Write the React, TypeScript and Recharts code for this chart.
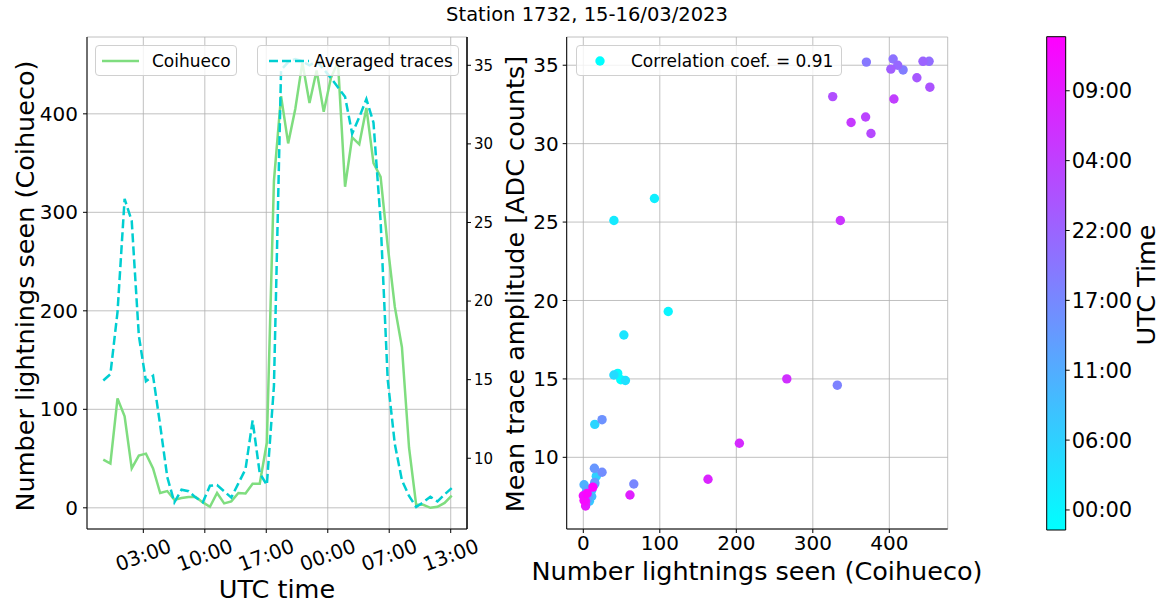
import React from 'react';
import {
  LineChart,
  Line,
  ScatterChart,
  Scatter,
  BarChart,
  Bar,
  XAxis,
  YAxis,
  CartesianGrid,
} from 'recharts';

const FONT = '"DejaVu Sans", Verdana, sans-serif';

// one sample every ~48.6 min, UTC, starting late on 15/03
const coihueco = [
  49, 45, 111, 93, 40, 53, 55, 40, 15, 17,
  8, 10, 11, 11, 5.5, 1, 15, 4.5, 6.5, 15,
  14.5, 24.5, 24.5, 66, 332, 418, 370, 405, 452, 411,
  444, 402, 436, 453, 326, 376, 369, 406, 350, 336,
  266, 204, 163, 61, 3, 3, 0, 1, 5, 12.5,
];

const averaged = [
  14.95, 15.35, 19.3, 26.5, 25.1, 17.8, 14.9, 15.25, 12.1, 8.8,
  7.2, 8.0, 7.9, 7.5, 7.2, 8.25, 8.3, 7.9, 7.5, 8.4,
  9.3, 12.4, 9.05, 8.3, 14.6, 34.7, 35.2, 35.4, 35.25, 35.0,
  35.25, 34.75, 34.2, 33.6, 33.0, 30.65, 31.7, 32.85, 31.35, 25.1,
  15.0, 10.9, 8.6, 7.6, 6.9, 7.2, 7.55, 7.25, 7.7, 8.1,
];

const timeTicks = [5.63, 14.28, 22.92, 31.57, 40.21, 48.86];
const timeTickLabels = ['03:00', '10:00', '17:00', '00:00', '07:00', '13:00'];
const colorbarTicks = [1.99, 8.93, 15.87, 22.81, 29.75, 36.69, 43.63];
const colorbarLabels = ['00:00', '06:00', '11:00', '17:00', '22:00', '04:00', '09:00'];
const countTicks = [0, 100, 200, 300, 400];
const ampTicks = [10, 15, 20, 25, 30, 35];

const last = coihueco.length - 1;

// matplotlib "cool" colormap: cyan -> magenta
const cool = (t: number) =>
  `rgb(${Math.round(255 * t)}, ${Math.round(255 * (1 - t))}, 255)`;

const series = coihueco.map((c, i) => ({ idx: i, coihueco: c, averaged: averaged[i] }));
const points = coihueco.map((c, i) => ({ x: c, y: averaged[i], color: cool(i / last) }));
const colorbar = [{ name: 'time', span: last }];

const GREEN = '#7fdd7f';
const TURQ = '#00ced1';
const GRID = '#b0b0b0';
const LW = 2.5;
const DASH = '9 4';

const TimeTick = (props: any) => {
  const { x, y, payload, index } = props;
  const i = index ?? timeTicks.indexOf(payload.value);
  return (
    <text
      x={0}
      y={0}
      textAnchor="middle"
      dominantBaseline="central"
      transform={`translate(${x},${y + 20}) rotate(-20)`}
      fontSize={20}
      fill="#000"
    >
      {timeTickLabels[i]}
    </text>
  );
};

const LegendBox = ({
  left,
  width,
  children,
}: {
  left: number;
  width: number;
  children: React.ReactNode;
}) => (
  <div
    style={{
      position: 'absolute',
      left,
      top: 45,
      width,
      height: 31,
      boxSizing: 'border-box',
      border: '1px solid #d0d0d0',
      borderRadius: 4,
      background: 'rgba(255,255,255,0.8)',
      display: 'flex',
      alignItems: 'center',
      fontSize: 17,
      whiteSpace: 'nowrap',
    }}
  >
    {children}
  </div>
);

const AxisTitle = ({
  x,
  y,
  text,
  rotate = 0,
  size = 25.5,
}: {
  x: number;
  y: number;
  text: string;
  rotate?: number;
  size?: number;
}) => (
  <div
    style={{
      position: 'absolute',
      left: x,
      top: y,
      transform: `translate(-50%, -50%) rotate(${rotate}deg)`,
      fontSize: size,
      whiteSpace: 'nowrap',
      lineHeight: 1,
    }}
  >
    {text}
  </div>
);

const axisStroke = { stroke: '#000' };

export default function App() {
  return (
    <div
      style={{
        position: 'absolute',
        left: 0,
        top: 0,
        width: 1160,
        height: 607,
        background: '#fff',
        fontFamily: FONT,
        color: '#000',
        overflow: 'hidden',
      }}
    >
      <AxisTitle x={587} y={15} text="Station 1732, 15-16/03/2023" size={19.5} />

      {/* time series: lightning counts and averaged trace amplitude */}
      <div style={{ position: 'absolute', left: 0, top: 0 }}>
        <LineChart
          width={500}
          height={607}
          data={series}
          margin={{ top: 37, right: 0, bottom: 0, left: 0 }}
        >
          <CartesianGrid yAxisId="count" stroke={GRID} strokeWidth={0.8} />
          <XAxis
            dataKey="idx"
            type="number"
            domain={[-2.29, 51.15]}
            ticks={timeTicks}
            interval={0}
            height={78}
            tick={(p: any) => <TimeTick {...p} />}
            tickSize={4}
            tickLine={axisStroke}
            axisLine={axisStroke}
            allowDataOverflow
          />
          <XAxis
            xAxisId="top"
            orientation="top"
            type="number"
            domain={[-2.29, 51.15]}
            height={0}
            tick={false}
            tickLine={false}
            axisLine={axisStroke}
          />
          <YAxis
            yAxisId="count"
            type="number"
            domain={[-21.5, 478]}
            ticks={countTicks}
            interval={0}
            width={87}
            tickSize={4}
            tickMargin={5}
            tick={{ fontSize: 20, fill: '#000' }}
            tickLine={axisStroke}
            axisLine={axisStroke}
            allowDataOverflow
          />
          <YAxis
            yAxisId="amp"
            orientation="right"
            type="number"
            domain={[5.5, 36.8]}
            ticks={ampTicks}
            interval={0}
            width={33}
            tickSize={4}
            tickMargin={3}
            tick={{ fontSize: 15, fill: '#000' }}
            tickLine={axisStroke}
            axisLine={{ stroke: '#000', strokeWidth: 1.5 }}
            allowDataOverflow
          />
          <Line
            yAxisId="count"
            type="linear"
            dataKey="coihueco"
            stroke={GREEN}
            strokeWidth={LW}
            dot={false}
            isAnimationActive={false}
          />
          <Line
            yAxisId="amp"
            type="linear"
            dataKey="averaged"
            stroke={TURQ}
            strokeWidth={LW}
            strokeDasharray={DASH}
            dot={false}
            isAnimationActive={false}
          />
        </LineChart>
      </div>

      <LegendBox left={95} width={142}>
        <svg width={56} height={20} style={{ flex: 'none' }}>
          <line x1={6} y1={10} x2={43} y2={10} stroke={GREEN} strokeWidth={LW} />
        </svg>
        <span>Coihueco</span>
      </LegendBox>
      <LegendBox left={257} width={202}>
        <svg width={56} height={20} style={{ flex: 'none' }}>
          <line
            x1={11}
            y1={10}
            x2={51}
            y2={10}
            stroke={TURQ}
            strokeWidth={LW}
            strokeDasharray={DASH}
          />
        </svg>
        <span>Averaged traces</span>
      </LegendBox>

      <AxisTitle x={26} y={286} text="Number lightnings seen (Coihueco)" rotate={-90} />
      <AxisTitle x={277} y={590} text="UTC time" />

      {/* counts vs amplitude, coloured by time */}
      <div style={{ position: 'absolute', left: 500, top: 0 }}>
        <ScatterChart
          width={460}
          height={607}
          margin={{ top: 37, right: 12.3, bottom: 0, left: 0 }}
        >
          <CartesianGrid stroke={GRID} strokeWidth={0.8} />
          <XAxis
            dataKey="x"
            type="number"
            domain={[-21.7, 476.3]}
            ticks={countTicks}
            interval={0}
            height={78}
            tickSize={4}
            tickMargin={3}
            tick={{ fontSize: 20, fill: '#000' }}
            tickLine={axisStroke}
            axisLine={axisStroke}
            allowDataOverflow
          />
          <XAxis
            xAxisId="top"
            orientation="top"
            type="number"
            domain={[-21.7, 476.3]}
            height={0}
            tick={false}
            tickLine={false}
            axisLine={axisStroke}
          />
          <YAxis
            dataKey="y"
            type="number"
            domain={[5.43, 36.8]}
            ticks={ampTicks}
            interval={0}
            width={66.7}
            tickSize={4}
            tickMargin={4}
            tick={{ fontSize: 20, fill: '#000' }}
            tickLine={axisStroke}
            axisLine={axisStroke}
            allowDataOverflow
          />
          <YAxis
            yAxisId="right"
            orientation="right"
            type="number"
            domain={[5.43, 36.8]}
            width={0}
            tick={false}
            tickLine={false}
            axisLine={axisStroke}
          />
          <Scatter
            data={points}
            isAnimationActive={false}
            shape={(p: any) => (
              <circle cx={p.cx} cy={p.cy} r={4.7} fill={p.payload.color} />
            )}
          />
        </ScatterChart>
      </div>

      <div
        style={{
          position: 'absolute',
          left: 576,
          top: 45,
          width: 266,
          height: 31,
          boxSizing: 'border-box',
          border: '1px solid #d0d0d0',
          borderRadius: 4,
          background: 'rgba(255,255,255,0.8)',
          display: 'flex',
          alignItems: 'center',
          fontSize: 17,
          whiteSpace: 'nowrap',
        }}
      >
        <svg width={54} height={20} style={{ flex: 'none' }}>
          <circle cx={23} cy={10} r={4.7} fill={cool(0)} />
        </svg>
        <span>Correlation coef. = 0.91</span>
      </div>

      <AxisTitle x={516} y={284} text="Mean trace amplitude [ADC counts]" rotate={-90} />
      <AxisTitle x={757} y={572} text="Number lightnings seen (Coihueco)" />

      {/* colour bar for the sample time */}
      <div style={{ position: 'absolute', left: 960, top: 0 }}>
        <BarChart
          width={200}
          height={607}
          data={colorbar}
          barCategoryGap={0}
          margin={{ top: 36.7, right: 0, bottom: 77, left: 86.7 }}
        >
          <defs>
            <linearGradient id="coolGrad" x1="0" y1="1" x2="0" y2="0">
              <stop offset="0%" stopColor={cool(0)} />
              <stop offset="100%" stopColor={cool(1)} />
            </linearGradient>
          </defs>
          <XAxis dataKey="name" type="category" hide />
          <YAxis
            orientation="right"
            type="number"
            domain={[0, last]}
            ticks={colorbarTicks}
            interval={0}
            width={94.3}
            tickSize={4}
            tickMargin={2}
            tick={{ fontSize: 21, fill: '#000' }}
            tickFormatter={(v: number) => colorbarLabels[colorbarTicks.indexOf(v)]}
            tickLine={axisStroke}
            axisLine={false}
          />
          <Bar
            dataKey="span"
            fill="url(#coolGrad)"
            stroke="#000"
            strokeWidth={1}
            isAnimationActive={false}
          />
        </BarChart>
      </div>

      <AxisTitle x={1147} y={285} text="UTC Time" rotate={-90} />
    </div>
  );
}
